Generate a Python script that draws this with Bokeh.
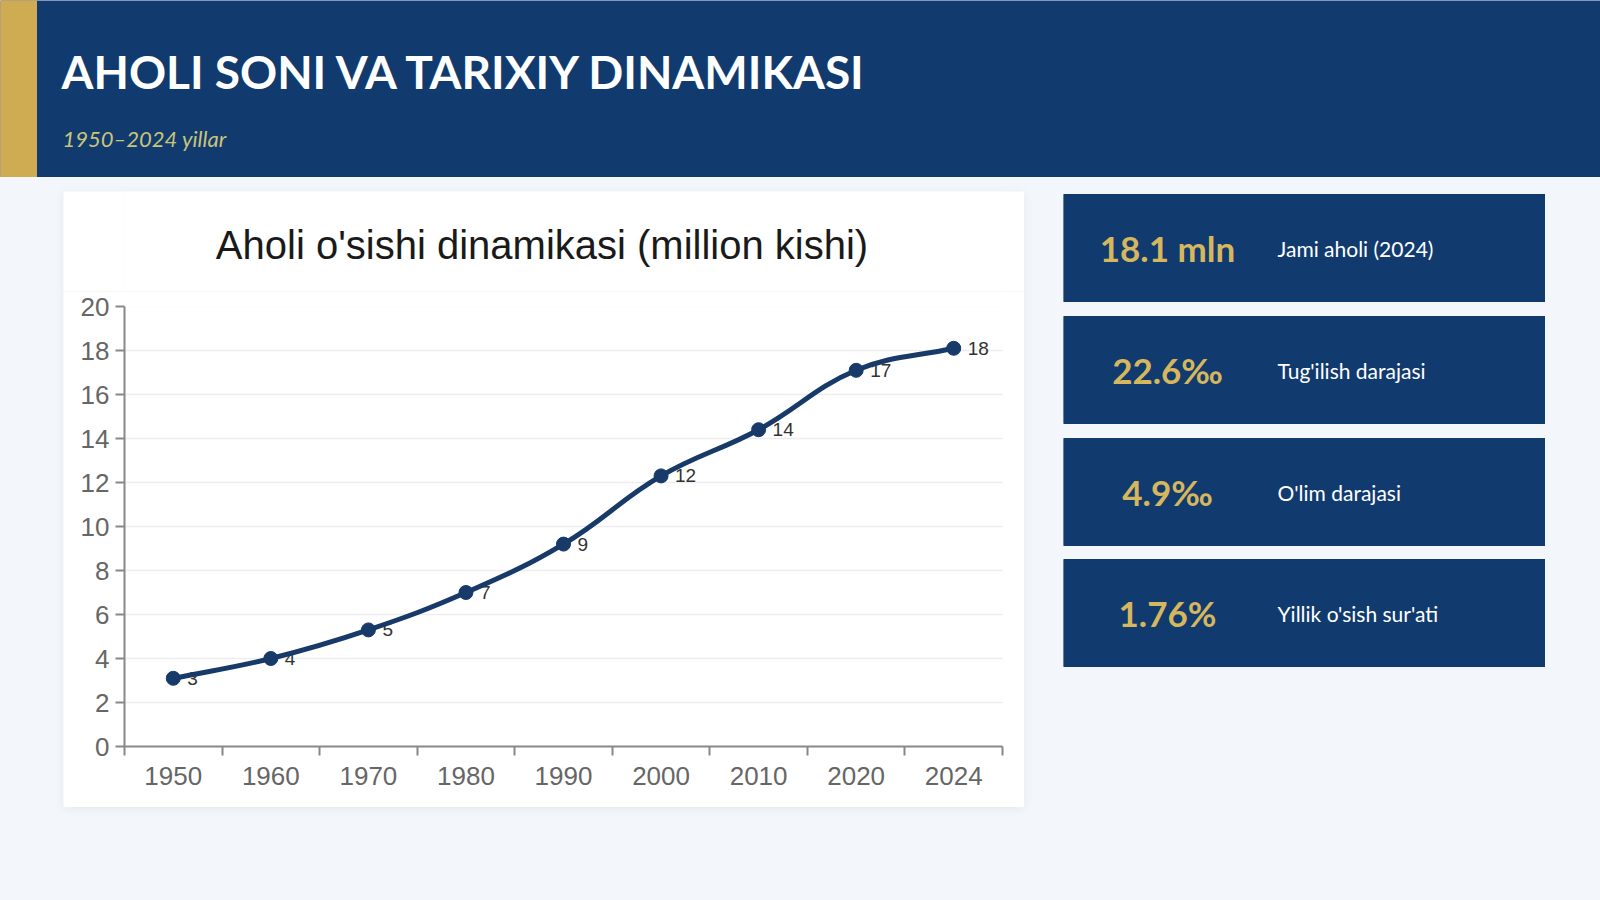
import numpy as np
from bokeh.plotting import figure
from bokeh.layouts import column, row
from bokeh.models import Spacer, FixedTicker, Range1d
from bokeh.core.properties import value
from bokeh.embed import file_html
from bokeh.resources import INLINE

# data
years = ["1950", "1960", "1970", "1980", "1990", "2000", "2010", "2020", "2024"]
population = [3.1, 4.0, 5.3, 7.0, 9.2, 12.3, 14.4, 17.1, 18.1]
y_ticks = [0, 2, 4, 6, 8, 10, 12, 14, 16, 18, 20]

kpi_values = ["18.1 mln", "22.6‰", "4.9‰", "1.76%"]
kpi_labels = ["Jami aholi (2024)", "Tug'ilish darajasi", "O'lim darajasi", "Yillik o'sish sur'ati"]

page_title = "AHOLI SONI VA TARIXIY DINAMIKASI"
page_subtitle = "1950–2024 yillar"
chart_title = "Aholi o'sishi dinamikasi (million kishi)"

NAVY = "#113b6e"
GOLD = "#cfab52"
BG = "#f3f6fa"
LINE = "#173a68"

W, H = 1600, 900
HEAD_H = 177


def blank(width, height, fill):
    f = figure(width=width, height=height, output_backend="svg", toolbar_location=None,
               x_range=Range1d(0, width), y_range=Range1d(height, 0),
               min_border=0, outline_line_color=None)
    f.axis.visible = False
    f.grid.visible = False
    f.background_fill_color = fill
    f.border_fill_color = fill
    return f


# header band
header = blank(W, HEAD_H, NAVY)
header.quad(left=[0], right=[36], top=[0], bottom=[HEAD_H], color=GOLD)
header.text(x=[61], y=[71], text=[page_title], text_font=value("Lato"), text_font_style="bold",
            text_font_size="46px", text_color="white", text_baseline="middle")
header.text(x=[62], y=[138], text=[page_subtitle], text_font=value("Lato"), text_font_style="italic",
            text_font_size="22px", text_color="#c9c47a", text_baseline="middle")

# chart title
card_w = 961
tfig = blank(card_w, 100, "white")
tfig.text(x=[100], y=[53], text=[chart_title], text_font=value("Liberation Sans"),
          text_font_size="40px", text_color="#1a1a1a", text_align="left", text_baseline="middle")

# line chart
mb_l, mb_r, mb_t, mb_b = 61, 22, 15, 61
ch = 516
p = figure(width=card_w, height=ch, output_backend="svg", toolbar_location=None,
           x_range=Range1d(-0.5, len(years) - 0.5), y_range=Range1d(0, 20),
           min_border_left=mb_l, min_border_right=mb_r, min_border_top=mb_t, min_border_bottom=mb_b,
           outline_line_color=None)
p.background_fill_color = "white"
p.border_fill_color = "white"

xs = np.arange(len(years), dtype=float)
ys = np.array(population)

p.xaxis.ticker = FixedTicker(ticks=list(xs), minor_ticks=[i - 0.5 for i in range(len(years) + 1)])
p.xaxis.major_label_overrides = {i: y for i, y in enumerate(years)}
p.xaxis.major_tick_line_color = None
p.xaxis.minor_tick_out = 9
p.xaxis.minor_tick_in = 0
p.xaxis.minor_tick_line_color = "#888888"
p.xaxis.minor_tick_line_width = 2
p.xaxis.major_label_standoff = 11
p.yaxis.ticker = FixedTicker(ticks=y_ticks)
p.yaxis.major_tick_out = 9
p.yaxis.major_tick_in = 0
p.yaxis.major_tick_line_color = "#888888"
p.yaxis.major_tick_line_width = 2
p.yaxis.major_label_standoff = 6
for ax in (p.xaxis, p.yaxis):
    ax.axis_line_color = "#888888"
    ax.axis_line_width = 2
    ax.major_label_text_font = "Liberation Sans"
    ax.major_label_text_font_size = "26px"
    ax.major_label_text_color = "#666666"
p.xgrid.visible = False
p.ygrid.grid_line_color = "#ededed"
p.ygrid.grid_line_width = 1.5

# smoothed line (chart.js style spline, tension 0.4) drawn with bezier glyphs
frame_w = card_w - mb_l - mb_r
frame_h = ch - mb_t - mb_b
sx = frame_w / len(years)
sy = frame_h / 20.0
px, py = xs * sx, ys * sy
n = len(px)
cp_prev = np.zeros((n, 2))
cp_next = np.zeros((n, 2))
for i in range(n):
    a = max(i - 1, 0)
    b = min(i + 1, n - 1)
    d01 = np.hypot(px[i] - px[a], py[i] - py[a])
    d12 = np.hypot(px[b] - px[i], py[b] - py[i])
    tot = d01 + d12
    s01 = d01 / tot if tot else 0
    s12 = d12 / tot if tot else 0
    fa, fb = 0.4 * s01, 0.4 * s12
    cp_prev[i] = (px[i] - fa * (px[b] - px[a]), py[i] - fa * (py[b] - py[a]))
    cp_next[i] = (px[i] + fb * (px[b] - px[a]), py[i] + fb * (py[b] - py[a]))

p.text(x=xs, y=ys, text=[str(int(round(v))) for v in population], x_offset=14,
       text_baseline="middle", text_font=value("Liberation Sans"), text_font_size="19px",
       text_color="#333333")
p.bezier(x0=xs[:-1], y0=ys[:-1], x1=xs[1:], y1=ys[1:],
         cx0=cp_next[:-1, 0] / sx, cy0=cp_next[:-1, 1] / sy,
         cx1=cp_prev[1:, 0] / sx, cy1=cp_prev[1:, 1] / sy,
         line_color=LINE, line_width=5)
p.scatter(xs, ys, size=14, color=LINE)

card = column(tfig, p, spacing=0, styles={"box-shadow": "0 2px 10px rgba(20,40,80,0.06)"})

# kpi cards
kfig = blank(482, 616, BG)
tops = [3, 125, 247, 368]
card_h = 107
kfig.quad(left=[0] * 4, right=[482] * 4, top=tops, bottom=[t + card_h for t in tops], color=NAVY)
mids = [t + card_h / 2 for t in tops]
kfig.text(x=[104] * 4, y=mids, text=kpi_values, text_font=value("Lato"), text_font_style="bold",
          text_font_size="35px", text_color="#d6b75e", text_align="center", text_baseline="middle")
kfig.text(x=[214] * 4, y=mids, text=kpi_labels, text_font=value("Lato"),
          text_font_size="21px", text_color="white", text_baseline="middle")

body = row(Spacer(width=63, height=616), card, Spacer(width=39, height=616), kfig,
           Spacer(width=W - 63 - card_w - 39 - 482, height=616), spacing=0)

root = column(header, Spacer(width=W, height=14), body, Spacer(width=W, height=H - HEAD_H - 14 - 616),
              spacing=0, styles={"background-color": BG})

open("out.html", "w").write(file_html(root, INLINE))
